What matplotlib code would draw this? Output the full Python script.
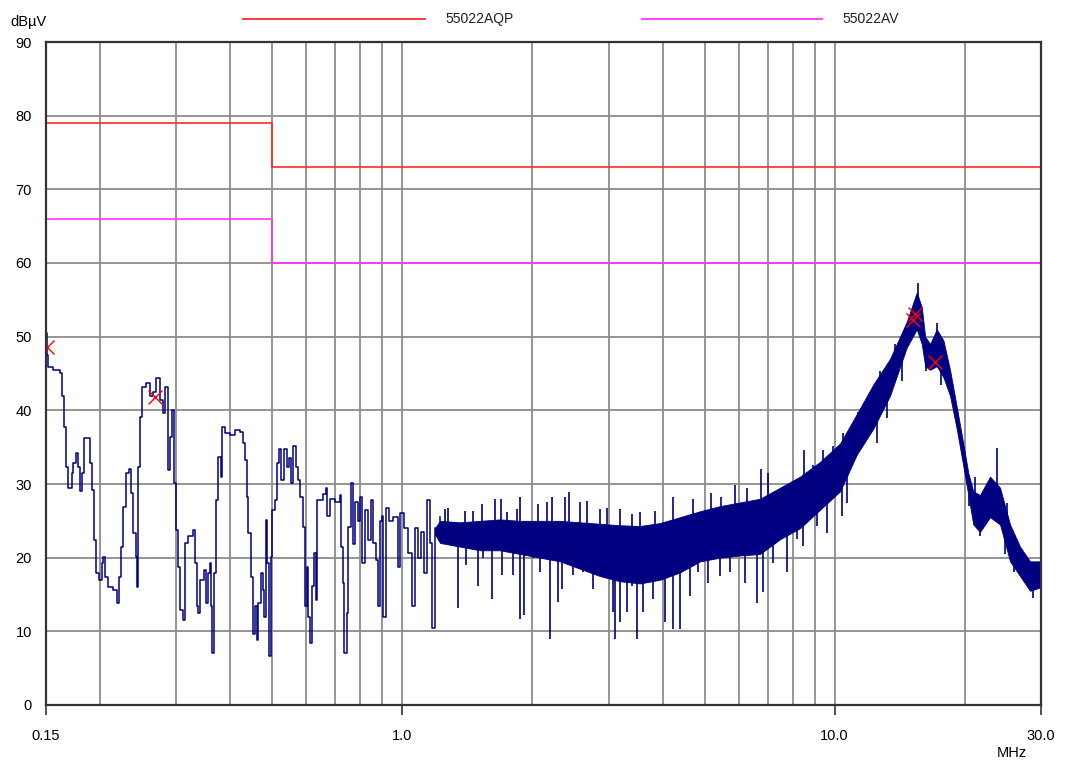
import matplotlib.pyplot as plt
import numpy as np
from matplotlib.lines import Line2D
from matplotlib.ticker import NullFormatter

plt.rcParams['font.family'] = ['Liberation Sans', 'DejaVu Sans']
plt.rcParams['font.size'] = 10.5

# 低频段扫描曲线 (MHz, dBuV)
scan_f = [0.150, 0.1504, 0.1518, 0.1557, 0.1616, 0.1631, 0.1651, 0.1669, 0.1689, 0.1720,
          0.1735, 0.1760, 0.1782, 0.1798, 0.1817, 0.1837, 0.1879, 0.1896, 0.1919, 0.1937,
          0.1958, 0.1992, 0.2018, 0.2035, 0.2054, 0.2090, 0.2147, 0.2193, 0.2213, 0.2233,
          0.2264, 0.2297, 0.2338, 0.2359, 0.2388, 0.2419, 0.2431, 0.2444, 0.2474, 0.2497,
          0.2555, 0.2610, 0.2652, 0.2695, 0.2753, 0.2792, 0.2827, 0.2868, 0.2904, 0.2940,
          0.2966, 0.2998, 0.3035, 0.3062, 0.3107, 0.3146, 0.3202, 0.3278, 0.3318, 0.3348,
          0.3377, 0.3407, 0.3481, 0.3518, 0.3561, 0.3593, 0.3607, 0.3638, 0.3671, 0.3710,
          0.3756, 0.3805, 0.3825, 0.3893, 0.3996, 0.4104, 0.4214, 0.4275, 0.4328, 0.4381,
          0.4405, 0.4469, 0.4510, 0.4565, 0.4607, 0.4646, 0.4706, 0.4756, 0.4790, 0.4841,
          0.4874, 0.4919, 0.4963, 0.5006, 0.5078, 0.5141, 0.5188, 0.5243, 0.5328, 0.5405,
          0.5472, 0.5530, 0.5581, 0.5680, 0.5750, 0.5802, 0.5905, 0.5959, 0.6013, 0.6064,
          0.6120, 0.6175, 0.6251, 0.6308, 0.6342, 0.6454, 0.6548, 0.6664, 0.6711, 0.6808,
          0.6991, 0.7180, 0.7218, 0.7307, 0.7346, 0.7440, 0.7504, 0.7601, 0.7706, 0.7777,
          0.7902, 0.7986, 0.8085, 0.8202, 0.8347, 0.8455, 0.8560, 0.8698, 0.8805, 0.8885,
          0.8966, 0.9043, 0.9173, 0.9321, 0.9522, 0.9795, 0.9884, 1.0094, 1.0327, 1.0515,
          1.0701, 1.0874, 1.1049, 1.1227, 1.1389, 1.1592, 1.1735, 1.1904, 1.2226]
scan_dbuv = [50.5, 47.5, 45.9, 45.5, 45.1, 41.9, 37.8, 32.3, 29.5, 31.5,
             32.8, 34.2, 32.3, 29.0, 31.5, 36.2, 36.2, 32.8, 29.2, 22.4,
             17.9, 17.0, 19.3, 20.1, 17.4, 16.0, 15.6, 13.8, 17.4, 21.5,
             26.9, 31.5, 32.1, 28.8, 23.4, 20.1, 16.0, 32.3, 39.1, 43.2,
             43.7, 42.0, 42.5, 44.4, 41.4, 39.6, 43.2, 31.9, 36.4, 40.0,
             30.1, 23.8, 18.8, 12.9, 11.6, 22.0, 22.9, 23.8, 19.3, 13.4,
             12.5, 17.0, 18.3, 13.8, 17.9, 19.3, 13.4, 7.0, 17.9, 27.8,
             33.7, 31.0, 37.8, 36.9, 36.7, 37.3, 37.1, 35.5, 33.3, 28.3,
             23.4, 17.4, 9.7, 13.4, 8.8, 13.8, 17.9, 15.6, 12.0, 25.1,
             19.3, 6.6, 20.1, 26.5, 27.8, 32.8, 34.8, 30.5, 34.8, 32.3,
             33.5, 30.1, 35.1, 32.3, 30.5, 28.3, 24.2, 13.4, 18.8, 12.0,
             8.4, 16.1, 20.6, 14.3, 27.8, 27.8, 28.7, 29.4, 25.6, 28.0,
             27.5, 28.5, 21.5, 16.5, 7.0, 12.5, 24.2, 30.1, 21.9, 27.5,
             25.0, 28.3, 19.3, 26.5, 22.4, 27.8, 22.0, 19.7, 13.4, 25.0,
             25.6, 12.0, 26.7, 25.0, 25.5, 18.8, 26.0, 24.0, 20.6, 13.4,
             24.0, 20.0, 23.5, 17.9, 27.8, 22.0, 10.4, 24.0, 25.5]

# 高频段噪声带 (上下包络)
band_f = [1.19, 1.2226, 1.360, 1.513, 1.683, 1.872, 2.082, 2.316, 2.577, 2.866, 3.188,
          3.547, 3.945, 4.389, 4.882, 5.430, 6.040, 6.719, 7.474, 8.313, 9.248,
          10.29, 11.25, 12.28, 13.43, 14.67, 15.48, 15.90, 16.19, 16.62, 17.22,
          17.84, 18.48, 19.15, 19.83, 20.37, 20.92, 21.68, 22.87, 24.12, 25.44,
          26.83, 28.30, 30.0]
band_top = [24.0, 25.0, 24.8, 25.0, 25.2, 25.0, 25.0, 25.0, 24.8, 24.6, 24.4,
            24.3, 24.7, 25.5, 26.3, 27.0, 27.5, 28.0, 29.5, 31.0, 33.0,
            35.5, 39.5, 43.5, 47.0, 52.0, 56.0, 54.0, 50.0, 49.0, 51.0,
            49.5, 45.5, 40.5, 35.5, 31.5, 29.0, 28.5, 31.0, 29.5, 24.5,
            21.5, 19.5, 19.5]
band_bot = [23.2, 22.0, 21.5, 21.0, 21.0, 20.5, 20.0, 19.5, 18.5, 17.5, 16.8,
            16.5, 17.0, 18.0, 19.5, 20.0, 20.3, 20.5, 22.5, 24.0, 26.5,
            29.0, 34.0, 37.5, 42.0, 48.5, 51.0, 49.0, 46.0, 45.5, 46.0,
            44.5, 42.0, 37.5, 32.5, 28.5, 24.5, 23.5, 25.5, 24.5, 19.5,
            17.5, 15.5, 16.0]

# 向上尖峰
peak_f = [1.256, 1.278, 1.397, 1.460, 1.527, 1.639, 1.689, 1.744, 1.839, 1.872,
          2.064, 2.158, 2.216, 2.379, 2.434, 2.577, 2.670, 2.866, 2.970, 3.188,
          3.393, 3.547, 3.841, 4.221, 4.695, 5.175, 5.459, 5.881, 6.260, 6.744,
          7.023, 7.606, 7.955, 8.505, 8.924, 9.381, 9.927, 10.45, 11.34, 11.75,
          12.73, 13.79, 15.61, 17.22, 21.1, 23.7, 25.0, 27.5]
peak_dbuv = [26.6, 26.7, 26.4, 26.4, 27.3, 28.0, 28.0, 26.2, 26.6, 28.2,
             27.3, 27.5, 28.3, 28.2, 28.9, 27.5, 27.7, 26.6, 26.8, 26.6,
             25.9, 26.2, 26.3, 28.3, 27.9, 28.8, 28.3, 29.8, 29.4, 32.1,
             31.5, 29.2, 30.3, 34.6, 32.6, 34.6, 35.1, 36.9, 39.8, 40.5,
             45.4, 49.0, 57.3, 51.9, 31.0, 34.9, 27.4, 20.2]

# 向下尖峰
dip_f = [1.348, 1.404, 1.499, 1.540, 1.610, 1.698, 1.806, 1.872, 1.912, 2.009,
         2.082, 2.196, 2.295, 2.337, 2.486, 2.622, 2.766, 3.076, 3.104, 3.188,
         3.305, 3.393, 3.485, 3.609, 3.807, 4.051, 4.226, 4.389, 4.628, 4.838,
         5.102, 5.430, 5.727, 6.203, 6.603, 6.838, 7.212, 7.746, 8.169, 8.460,
         9.085, 9.583, 10.41, 10.66, 12.5, 13.2, 14.3, 16.25, 17.6, 20.5,
         21.7, 24.8, 26.0, 28.8]
dip_dbuv = [13.1, 19.0, 16.2, 19.9, 14.4, 17.6, 17.6, 11.7, 12.2, 19.9,
            18.0, 9.0, 14.0, 15.8, 17.6, 18.0, 15.8, 12.6, 9.0, 11.3,
            12.6, 16.2, 9.0, 12.6, 14.4, 11.2, 10.3, 10.3, 14.8, 18.0,
            16.6, 17.5, 18.0, 16.6, 13.9, 15.3, 19.3, 18.0, 22.5, 21.6,
            24.3, 23.4, 25.6, 27.4, 35.5, 39.0, 44.0, 45.4, 43.5, 27.0,
            22.9, 20.5, 18.0, 14.5]

# 标记点
mark_f = [0.151, 0.268, 15.3, 15.2, 17.1]
mark_dbuv = [48.6, 41.8, 53.1, 52.3, 46.6]

# 限值线 EN55022 A
qp_f = [0.15, 0.5, 0.5, 30.0]
qp_dbuv = [79, 79, 73, 73]
av_f = [0.15, 0.5, 0.5, 30.0]
av_dbuv = [66, 66, 60, 60]

grid_f = [0.2, 0.3, 0.4, 0.5, 0.6, 0.7, 0.8, 0.9, 2, 3, 4, 5, 6, 7, 8, 9, 20]
tick_f = [0.15, 1.0, 10.0, 30.0]
tick_lab = ['0.15', '1.0', '10.0', '30.0']

navy = '#000080'
qp_col = '#ff2a2a'
av_col = '#ff33ff'

fig = plt.figure(figsize=(10.67, 7.62), dpi=100)
ax = fig.add_axes([46 / 1067, 1 - 705 / 762, 995 / 1067, 663 / 762])

ax.set_xscale('log')
ax.set_xlim(0.15, 30)
ax.set_ylim(0, 90)
ax.set_xticks(tick_f)
ax.set_xticklabels(tick_lab)
ax.set_xticks(grid_f, minor=True)
ax.xaxis.set_minor_formatter(NullFormatter())
ax.set_yticks(np.arange(0, 91, 10))
ax.tick_params(axis='x', which='major', length=7, width=1.2, pad=10, color='#333333')
ax.tick_params(axis='x', which='minor', length=0)
ax.tick_params(axis='y', length=0, pad=10)
ax.set_axisbelow(True)
ax.grid(True, which='both', color='#8c8c8c', lw=1.3)
for s in ax.spines.values():
    s.set_color('#333333')
    s.set_linewidth(1.6)

ax.plot(qp_f, qp_dbuv, color=qp_col, lw=1.2)
ax.plot(av_f, av_dbuv, color=av_col, lw=1.2)

ax.plot(scan_f, scan_dbuv, color=navy, lw=1.1, drawstyle='steps-post')
ax.fill_between(band_f, band_bot, band_top, color=navy, lw=0.6)
ax.vlines(peak_f, np.interp(peak_f, band_f, band_top) - 1, peak_dbuv, color=navy, lw=1.2)
ax.vlines(dip_f, dip_dbuv, np.interp(dip_f, band_f, band_bot) + 1, color=navy, lw=1.2)

ax.plot(mark_f, mark_dbuv, 'x', color='red', ms=10, mew=1.0)

# 图例
ly = 1 - 19 / 762
fig.add_artist(Line2D([243 / 1067, 425 / 1067], [ly, ly], color=qp_col, lw=1.3))
fig.text(445 / 1067, ly, '55022AQP', va='center', fontsize=10, color='#222222')
fig.add_artist(Line2D([642 / 1067, 822 / 1067], [ly, ly], color=av_col, lw=1.3))
fig.text(842 / 1067, ly, '55022AV', va='center', fontsize=10, color='#222222')

fig.text(10 / 1067, 1 - 22 / 762, 'dBµV', va='center', fontsize=10.5)
fig.text(1012 / 1067, 1 - 753 / 762, 'MHz', ha='center', va='center', fontsize=10.5)

fig.savefig('out.png', dpi=100)
